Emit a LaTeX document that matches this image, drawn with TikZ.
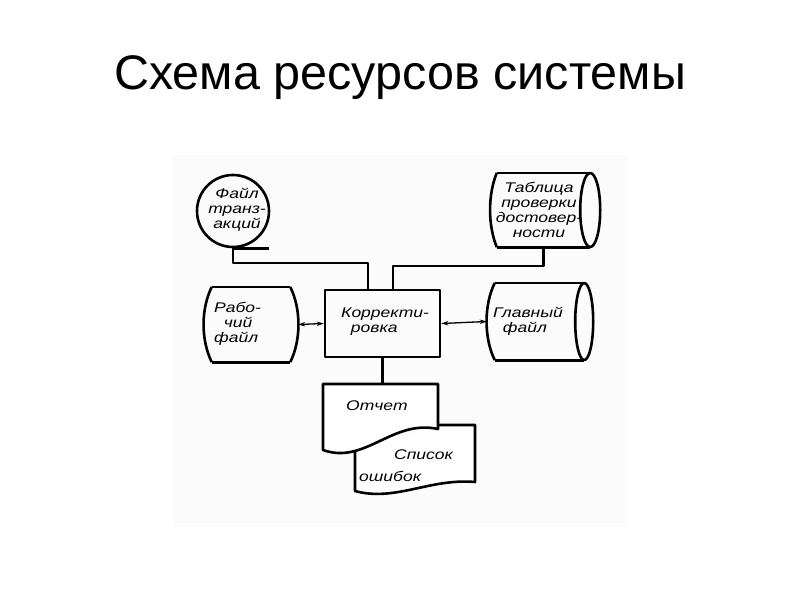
\documentclass[tikz,border=0pt]{standalone}
\usepackage{fontspec}
\setmainfont{Liberation Sans}
\newfontfamily\hand[FakeStretch=1.25,ItalicFont={Liberation Sans Italic}]{Liberation Sans}
\usetikzlibrary{arrows.meta,calc}
\begin{document}
\begin{tikzpicture}[x=1pt,y=-1pt,
  ln/.style={line width=2.6pt,line join=round},
  txt/.style={font=\hand\itshape\fontsize{14}{15}\selectfont,inner sep=0pt},
  shp/.style={inner sep=0pt,draw=none},
  dbl/.style={line width=1.3pt,{Stealth[length=7pt,width=4.5pt]}-{Stealth[length=7pt,width=4.5pt]}}]
\useasboundingbox (0,0) rectangle (800,600);
\fill[black!1.5] (173,155) rectangle (628,527);
% title
\node[font=\fontsize{48.5}{50}\selectfont] (title) at (400,78) {Схема ресурсов системы};

% transaction file (circle)
\node[circle,draw,ln,minimum size=72pt,inner sep=0pt] (trans) at (233,211) {};
\node[txt,align=center] (transt) at (237,210) {\fontsize{14}{18}\selectfont Файл\\транз-\\акций};
\draw[line width=3.4pt] (trans.south) -- ++(36,0);

% validation table (cylinder)
\node[shp,minimum width=93pt,minimum height=74pt] (tab) at (543.5,210) {};
\draw[ln] (tab.north west) -- (tab.north east)
          (tab.south west) -- (tab.south east);
\draw[ln] (tab.north west) .. controls ($(tab.north west)+(-9,22)$) and ($(tab.south west)+(-9,-22)$) .. (tab.south west);
\draw[ln] (tab.east) ellipse [x radius=10pt, y radius=37pt];
\node[txt,align=center] (tabt) at (539,210) {Таблица\\проверки\\достовер-\\ности};

% correction process
\node[draw,ln,minimum width=115pt,minimum height=67pt,inner sep=0pt] (korr) at (382.5,323.5) {};
\node[txt,align=left,anchor=west] (korrt) at (341,322) {\fontsize{14}{17}\selectfont Корректи-\\\ \ ровка};

% working file
\node[shp,minimum width=78pt,minimum height=75pt] (rab) at (251,324.5) {};
\draw[ln] (rab.north west) -- (rab.north east)
          (rab.south west) -- (rab.south east);
\draw[ln] (rab.north west) .. controls ($(rab.north west)+(-11,22)$) and ($(rab.south west)+(-11,-22)$) .. (rab.south west);
\draw[ln] (rab.north east) .. controls ($(rab.north east)+(11,22)$) and ($(rab.south east)+(11,-22)$) .. (rab.south east);
\node[txt,align=left,anchor=west] (rabt) at (214,324) {\fontsize{14}{17}\selectfont Рабо-\\\ \ чий\\файл};

% master file
\node[shp,minimum width=89pt,minimum height=77pt] (gl) at (539.5,321.5) {};
\draw[ln] (gl.north west) -- (gl.north east)
          (gl.south west) -- (gl.south east);
\draw[ln] (gl.north west) .. controls ($(gl.north west)+(-11,22)$) and ($(gl.south west)+(-11,-22)$) .. (gl.south west);
\draw[ln] (gl.east) ellipse [x radius=9pt, y radius=38.5pt];
\node[txt,align=left,anchor=west] (glt) at (493,321) {\fontsize{14}{18}\selectfont Главный\\\ \ файл};

% error list (behind)
\node[shp,minimum width=120pt,minimum height=66pt] (err) at (415,458) {};
\draw[ln,fill=white] (355,450) -- (355,491) .. controls (395,502) and (430,478) .. (475,482)
   -- (475,425) -- (438,425);
\node[txt,anchor=west] (errt1) at (394,455) {Список};
\node[txt,anchor=west] (errt2) at (359,476) {ошибок};

% report (front)
\node[shp,minimum width=115pt,minimum height=66pt] (rep) at (380.5,417) {};
\draw[ln,fill=white] (323,384) -- (438,384) -- (438,429)
   .. controls (392,419) and (365,465) .. (323,450) -- cycle;
\node[txt,anchor=west] (rept) at (346,406) {Отчет};

% connectors
\coordinate (j1) at (368,263);
\coordinate (j2) at (393,266);
\draw[ln] (trans.south) |- (j1) -- (korr.north -| j1);
\draw[ln] (tab.south) |- (j2) -- (korr.north -| j2);
\draw[ln] (korr.south) -- (korr.south |- rep.north);
\draw[dbl] ($(rab.east)+(8,0)$) -- (korr.west);
\draw[dbl] (korr.east) -- ($(gl.west)+(-8,0)$);
\end{tikzpicture}
\end{document}
